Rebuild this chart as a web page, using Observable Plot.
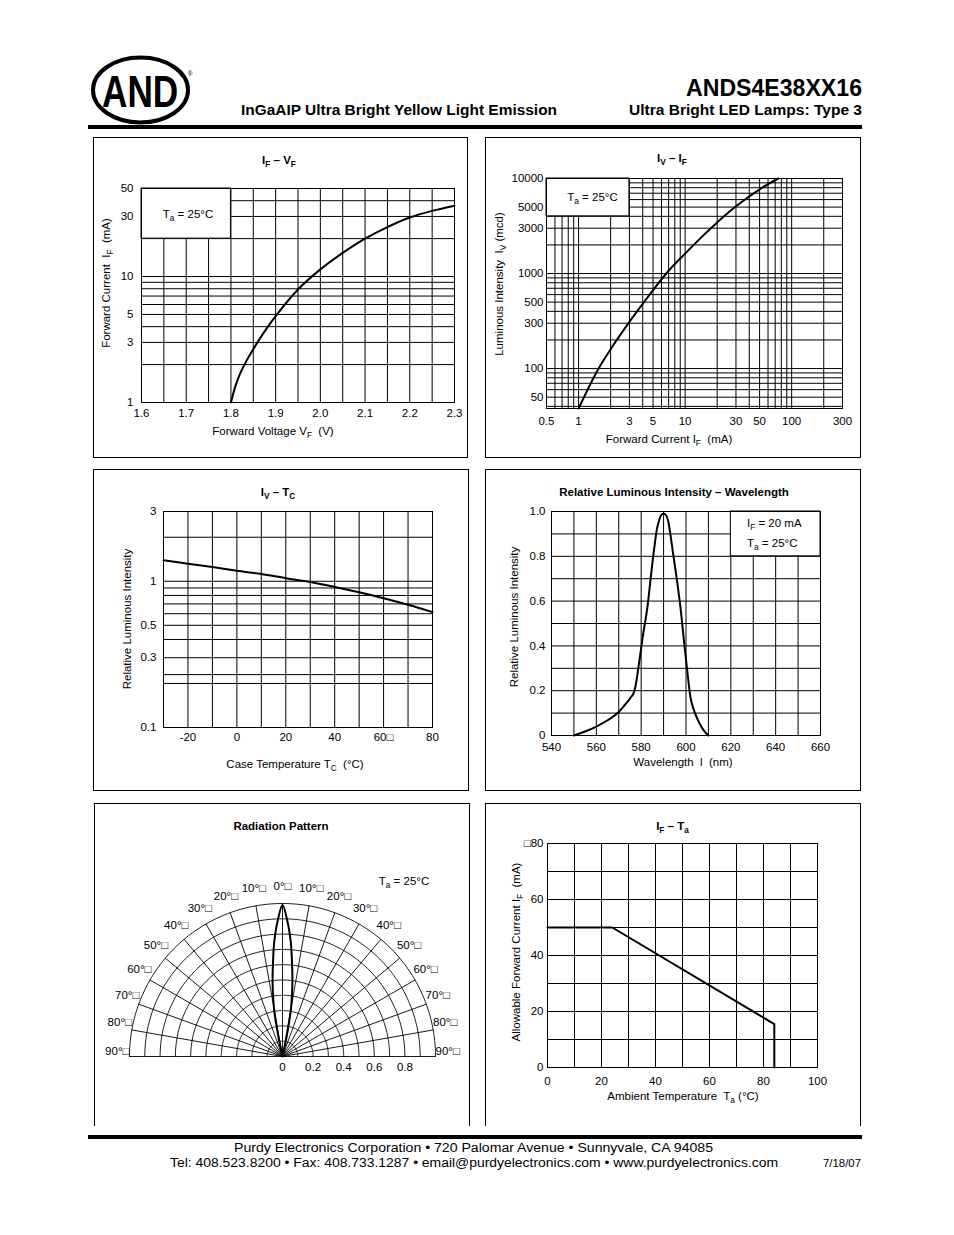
<!DOCTYPE html>
<html>
<head>
<meta charset="utf-8">
<script src="https://cdn.jsdelivr.net/npm/d3@7"></script>
<script src="https://cdn.jsdelivr.net/npm/@observablehq/plot@0.6"></script>
<style>
  body { margin: 0; background: #fff; }
  #page { position: relative; width: 954px; height: 1235px; background: #fff; overflow: hidden;
          font-family: "Liberation Sans", Arial, Helvetica, sans-serif; color: #000; }
  .panel { position: absolute; box-sizing: border-box; border: 1px solid #000; }
  .lbl { position: absolute; white-space: nowrap; line-height: 1; }
  .lbl sub { font-size: 0.72em; vertical-align: -0.3em; line-height: 0; }
</style>
</head>
<body>
<div id="page">
  <svg width="954" height="140" style="position:absolute;left:0;top:0" font-family='"Liberation Sans", Arial, Helvetica, sans-serif'>
    <ellipse cx="140.5" cy="90" rx="47.5" ry="32.5" fill="none" stroke="#000" stroke-width="4"/>
    <text transform="translate(102,107) scale(0.8,1)" x="0" y="0" font-weight="bold" font-size="44">AND<tspan font-size="8" font-weight="normal" dx="12" dy="-31">®</tspan></text>
    <text x="862" y="96" text-anchor="end" font-weight="bold" font-size="24.5" textLength="176" lengthAdjust="spacingAndGlyphs">ANDS4E38XX16</text>
    <text x="241" y="115" font-weight="bold" font-size="14.5" textLength="316" lengthAdjust="spacingAndGlyphs">InGaAIP Ultra Bright Yellow Light Emission</text>
    <text x="862" y="115" text-anchor="end" font-weight="bold" font-size="14.5" textLength="233" lengthAdjust="spacingAndGlyphs">Ultra Bright LED Lamps: Type 3</text>
    <rect x="88" y="125" width="774" height="4" fill="#000"/>
  </svg>
  <svg width="954" height="60" style="position:absolute;left:0;top:1125px" font-family='"Liberation Sans", Arial, Helvetica, sans-serif'>
    <rect x="88" y="10" width="774" height="4" fill="#000"/>
    <text x="473.5" y="27" text-anchor="middle" font-size="12" textLength="479" lengthAdjust="spacingAndGlyphs">Purdy Electronics Corporation  •  720 Palomar Avenue  •  Sunnyvale, CA 94085</text>
    <text x="474" y="42" text-anchor="middle" font-size="12" textLength="608" lengthAdjust="spacingAndGlyphs">Tel: 408.523.8200  •  Fax: 408.733.1287  •  email@purdyelectronics.com  •  www.purdyelectronics.com</text>
    <text x="861" y="42" text-anchor="end" font-size="10" textLength="38" lengthAdjust="spacingAndGlyphs">7/18/07</text>
  </svg>
</div>
<script>
// ================= DATA =================
// IF – VF
const vfTicks = [1.6, 1.7, 1.8, 1.9, 2.0, 2.1, 2.2, 2.3];
const vfGrid = [1.65, 1.7, 1.75, 1.8, 1.85, 1.9, 1.95, 2.0, 2.05, 2.1, 2.15, 2.2, 2.25];
const ifTicks = [1, 3, 5, 10, 30, 50];
const ifGrid = [2, 3, 4, 5, 6, 7, 8, 9, 10, 20, 30, 40];
const vfVoltage = [1.80, 1.81, 1.82, 1.835, 1.85, 1.875, 1.90, 1.95, 2.00, 2.05, 2.10, 2.15, 2.20, 2.25, 2.30];
const vfCurrent = [1.0, 1.35, 1.68, 2.15, 2.65, 3.65, 4.85, 7.9, 11.4, 15.4, 20.0, 24.7, 29.4, 33.2, 36.5];
const vfLegendBox = [{x1: 1.6, x2: 1.8, y1: 20, y2: 50}];

// IV – IF
const ifLogTicks = [0.5, 1, 3, 5, 10, 30, 50, 100, 300];
const ifLogGrid = [0.6, 0.7, 0.8, 0.9, 1, 2, 3, 4, 5, 6, 7, 8, 9, 10, 20, 30, 40, 50, 60, 70, 80, 90, 100, 200];
const ivTicks = [50, 100, 300, 500, 1000, 3000, 5000, 10000];
const ivGrid = [40, 50, 60, 70, 80, 90, 100, 200, 300, 400, 500, 600, 700, 800, 900, 1000, 2000, 3000, 4000, 5000, 6000, 7000, 8000, 9000];
const ivCurrent = [1, 1.5, 2, 3, 4, 5, 7, 10, 15, 20, 30, 50, 75];
const ivIntensity = [38, 95, 160, 310, 480, 670, 1070, 1620, 2550, 3450, 5100, 7700, 10000];
const ivLegendBox = [{x1: 0.5, x2: 3, y1: 4000, y2: 10000}];

// IV – TC
const tcTicks = [-20, 0, 20, 40, 60, 80];
const tcGrid = [-20, -10, 0, 10, 20, 30, 40, 50, 60, 70];
const relTicks = [0.1, 0.3, 0.5, 1, 3];
const relGrid = [0.2, 0.23, 0.3, 0.4, 0.5, 0.6, 0.7, 0.8, 0.9, 1, 2];
const tcTemp = [-30, -20, -10, 0, 10, 20, 30, 40, 50, 60, 70, 80];
const tcRel = [1.39, 1.32, 1.25, 1.18, 1.12, 1.05, 0.99, 0.915, 0.84, 0.765, 0.69, 0.615];

// Relative Luminous Intensity – Wavelength
const wlTicks = [540, 560, 580, 600, 620, 640, 660];
const wlGrid = [550, 560, 570, 580, 590, 600, 610, 620, 630, 640, 650];
const riTicks = [0, 0.2, 0.4, 0.6, 0.8, 1.0];
const riGrid = [0.1, 0.2, 0.3, 0.4, 0.5, 0.6, 0.7, 0.8, 0.9];
const wavelength = [550, 555, 560, 565, 570, 573, 575, 577, 578, 579, 580, 581, 582, 583, 584, 585, 586, 587, 588, 589, 590,
                    591, 592, 593, 594, 595, 596, 597, 598, 599, 600, 601, 602, 603, 604, 606, 608, 610];
const relIntensity = [0, 0.018, 0.04, 0.068, 0.105, 0.14, 0.165, 0.20, 0.25, 0.32, 0.39, 0.46, 0.52, 0.59, 0.68, 0.77, 0.85, 0.92, 0.96, 0.985, 0.99,
                      0.985, 0.96, 0.90, 0.83, 0.76, 0.69, 0.615, 0.53, 0.43, 0.34, 0.25, 0.17, 0.13, 0.10, 0.055, 0.022, 0];
const wlLegendBox = [{x1: 620, x2: 660, y1: 0.8, y2: 1.0}];

// Radiation pattern
const ringValues = [0.1, 0.2, 0.3, 0.4, 0.5, 0.6, 0.7, 0.8, 0.9, 1.0];
const spokeAngles = [-90, -80, -70, -60, -50, -40, -30, -20, -10, 0, 10, 20, 30, 40, 50, 60, 70, 80, 90];
const angleLabels = [-90, -80, -70, -60, -50, -40, -30, -20, -10, 0, 10, 20, 30, 40, 50, 60, 70, 80, 90];
const radialTicks = [0, 0.2, 0.4, 0.6, 0.8];
const lobeAngle = [0, 2, 4, 5, 6, 7, 8, 9, 10, 11, 12, 12.5, 13];
const lobeIntensity = [0.99, 0.89, 0.76, 0.68, 0.60, 0.53, 0.46, 0.39, 0.32, 0.22, 0.11, 0.05, 0];

// IF – Ta
const taTicks = [0, 20, 40, 60, 80, 100];
const taGrid = [10, 20, 30, 40, 50, 60, 70, 80, 90];
const afTicks = [0, 20, 40, 60, 80];
const afGrid = [10, 20, 30, 40, 50, 60, 70];
const derateTemp = [0, 24, 84, 84];
const derateCurrent = [50, 50, 15.5, 0];

// ================= DRAWING =================
const page = document.getElementById("page");
const FONT = '"Liberation Sans", Arial, Helvetica, sans-serif';
const baseStyle = {fontFamily: FONT, fontSize: "11.5px", color: "#000", background: "none", overflow: "visible"};
const K = "#000";

function place(svg, left, top) {
  svg.style.position = "absolute";
  svg.style.left = left + "px";
  svg.style.top = top + "px";
  page.appendChild(svg);
}
function panel(left, top, w, h, noBottom) {
  const d = document.createElement("div");
  d.className = "panel";
  Object.assign(d.style, {left: left + "px", top: top + "px", width: w + "px", height: h + "px"});
  if (noBottom) d.style.borderBottom = "none";
  page.appendChild(d);
}
function label(html, x, y, opt = {}) {
  const d = document.createElement("div");
  d.className = "lbl";
  d.innerHTML = html;
  d.style.left = x + "px";
  d.style.top = y + "px";
  d.style.fontSize = (opt.size || 11.5) + "px";
  if (opt.bold) d.style.fontWeight = "bold";
  let t = opt.left ? "translate(0,-50%)" : "translate(-50%,-50%)";
  if (opt.rotate) t += " rotate(-90deg)";
  d.style.transform = t;
  page.appendChild(d);
}
const zip = (xs, ys) => xs.map((x, i) => ({x, y: ys[i]}));
const fmt = d => String(d);

// tick labels drawn as text marks (so no tick is thinned out)
function xTickLabels(ticks, pad, format = fmt) {
  return Plot.text(ticks, {x: d => d, frameAnchor: "bottom", lineAnchor: "top", dy: pad, text: format, fill: K});
}
function yTickLabels(ticks, pad, format = fmt) {
  return Plot.text(ticks, {y: d => d, frameAnchor: "left", textAnchor: "end", dx: -pad, text: format, fill: K});
}

// ---- Chart 1: IF – VF ----
place(Plot.plot({
  width: 375, height: 321, marginLeft: 48, marginRight: 14, marginTop: 51, marginBottom: 56,
  style: baseStyle,
  x: {domain: [1.6, 2.3], axis: null},
  y: {type: "log", domain: [1, 50], axis: null},
  marks: [
    Plot.ruleX(vfGrid, {stroke: K}),
    Plot.ruleY(ifGrid, {stroke: K}),
    Plot.rect(vfLegendBox, {x1: "x1", x2: "x2", y1: "y1", y2: "y2", fill: "#fff", stroke: K}),
    Plot.frame({stroke: K}),
    Plot.line(zip(vfVoltage, vfCurrent), {x: "x", y: "y", curve: "catmull-rom", stroke: K, strokeWidth: 2}),
    xTickLabels(vfTicks, 6, d => d.toFixed(1)),
    yTickLabels(ifTicks, 8)
  ]
}), 93, 137);

// ---- Chart 2: IV – IF ----
place(Plot.plot({
  width: 376, height: 321, marginLeft: 61, marginRight: 19, marginTop: 41, marginBottom: 50,
  style: baseStyle,
  x: {type: "log", domain: [0.5, 300], axis: null},
  y: {type: "log", domain: [38, 10000], axis: null},
  marks: [
    Plot.ruleX(ifLogGrid, {stroke: K}),
    Plot.ruleY(ivGrid, {stroke: K}),
    Plot.rect(ivLegendBox, {x1: "x1", x2: "x2", y1: "y1", y2: "y2", fill: "#fff", stroke: K}),
    Plot.frame({stroke: K}),
    Plot.line(zip(ivCurrent, ivIntensity), {x: "x", y: "y", curve: "catmull-rom", stroke: K, strokeWidth: 2}),
    xTickLabels(ifLogTicks, 8),
    yTickLabels(ivTicks, 3)
  ]
}), 485, 137);

// ---- Chart 3: IV – TC ----
place(Plot.plot({
  width: 376, height: 322, marginLeft: 70, marginRight: 37, marginTop: 42, marginBottom: 64,
  style: baseStyle,
  x: {domain: [-30, 80], axis: null},
  y: {type: "log", domain: [0.1, 3], axis: null},
  marks: [
    Plot.ruleX(tcGrid, {stroke: K}),
    Plot.ruleY(relGrid, {stroke: K}),
    Plot.frame({stroke: K}),
    Plot.line(zip(tcTemp, tcRel), {x: "x", y: "y", curve: "catmull-rom", stroke: K, strokeWidth: 2}),
    xTickLabels(tcTicks, 5, d => d === 60 ? "60\u25A1" : String(d)),
    yTickLabels(relTicks, 7)
  ]
}), 93, 469);

// ---- Chart 4: Relative Luminous Intensity – Wavelength ----
place(Plot.plot({
  width: 376, height: 322, marginLeft: 66, marginRight: 41, marginTop: 42, marginBottom: 56,
  style: baseStyle,
  x: {domain: [540, 660], axis: null},
  y: {domain: [0, 1], axis: null},
  marks: [
    Plot.ruleX(wlGrid, {stroke: K}),
    Plot.ruleY(riGrid, {stroke: K}),
    Plot.rect(wlLegendBox, {x1: "x1", x2: "x2", y1: "y1", y2: "y2", fill: "#fff", stroke: K}),
    Plot.frame({stroke: K}),
    Plot.line(zip(wavelength, relIntensity), {x: "x", y: "y", curve: "monotone-x", stroke: K, strokeWidth: 2}),
    xTickLabels(wlTicks, 7),
    yTickLabels(riTicks, 6, d => d === 0 ? "0" : d.toFixed(1))
  ]
}), 485, 469);

// ---- Chart 5: Radiation pattern (polar, drawn on x/y scales) ----
const rad = Math.PI / 180;
const ringPts = ringValues.flatMap(r => d3.range(-90, 90.5, 1).map(a => ({r, x: r * Math.sin(a * rad), y: r * Math.cos(a * rad)})));
const lobeSide = lobeAngle.map((a, i) => ({a, r: lobeIntensity[i]}));
const lobePts = [...lobeSide.slice().reverse().map(d => ({a: -d.a, r: d.r})), ...lobeSide.slice(1)]
  .map(d => ({x: d.r * Math.sin(d.a * rad), y: d.r * Math.cos(d.a * rad)}));
place(Plot.plot({
  width: 376, height: 322, marginLeft: 35, marginRight: 35, marginTop: 100, marginBottom: 69,
  style: baseStyle,
  x: {domain: [-1, 1], axis: null},
  y: {domain: [0, 1], axis: null},
  marks: [
    Plot.line(ringPts, {x: "x", y: "y", z: "r", stroke: K, strokeWidth: 0.9}),
    Plot.link(spokeAngles, {x1: () => 0, y1: () => 0, x2: a => Math.sin(a * rad), y2: a => Math.cos(a * rad), stroke: K, strokeWidth: 0.9}),
    Plot.line(lobePts, {x: "x", y: "y", curve: "catmull-rom", stroke: K, strokeWidth: 2}),
    Plot.text(angleLabels, {x: a => 1.08 * Math.sin(a * rad), y: a => 1.08 * Math.cos(a * rad), dy: -5,
      text: a => Math.abs(a) + "°\u25A1", fill: K, fontSize: 11.5}),
    Plot.text(radialTicks, {x: d => d, y: () => 0, dy: 11, text: d => d === 0 ? "0" : d.toFixed(1), fill: K, fontSize: 11.5})
  ]
}), 94, 803);

// ---- Chart 6: IF – Ta ----
place(Plot.plot({
  width: 376, height: 322, marginLeft: 62, marginRight: 44, marginTop: 40, marginBottom: 58,
  style: baseStyle,
  x: {domain: [0, 100], axis: null},
  y: {domain: [0, 80], axis: null},
  marks: [
    Plot.ruleX(taGrid, {stroke: K}),
    Plot.ruleY(afGrid, {stroke: K}),
    Plot.frame({stroke: K}),
    Plot.line(zip(derateTemp, derateCurrent), {x: "x", y: "y", stroke: K, strokeWidth: 2}),
    xTickLabels(taTicks, 9),
    yTickLabels(afTicks, 4, d => d === 80 ? "\u25A180" : String(d))
  ]
}), 485, 803);

// ---- panel borders ----
panel(93, 137, 375, 321);
panel(485, 137, 376, 321);
panel(93, 469, 376, 322);
panel(485, 469, 376, 322);
panel(94, 803, 376, 323, true);
panel(485, 803, 376, 323, true);

// ---- titles, axis labels, legends ----
label("I<sub>F</sub> – V<sub>F</sub>", 279, 160.5, {bold: true});
label("Forward Voltage V<sub>F</sub>&nbsp; (V)", 273, 432);
label("Forward Current&nbsp; I<sub>F</sub>&nbsp; (mA)", 107, 283, {rotate: true});
label("T<sub>a</sub> = 25°C", 188, 215);

label("I<sub>V</sub> – I<sub>F</sub>", 672, 159, {bold: true});
label("Forward Current I<sub>F</sub>&nbsp; (mA)", 669, 440);
label("Luminous Intensity&nbsp; I<sub>V</sub> (mcd)", 500, 284, {rotate: true});
label("T<sub>a</sub> = 25°C", 592.5, 198);

label("I<sub>V</sub> – T<sub>C</sub>", 278, 493, {bold: true});
label("Case Temperature T<sub>C</sub>&nbsp; (°C)", 295, 764.5);
label("Relative Luminous Intensity", 128, 619, {rotate: true});

label("Relative Luminous Intensity – Wavelength", 674, 493, {bold: true});
label("Wavelength&nbsp; l&nbsp; (nm)", 683, 763);
label("Relative Luminous Intensity", 515, 617, {rotate: true});
label("I<sub>F</sub> = 20 mA", 747, 524, {left: true});
label("T<sub>a</sub> = 25°C", 747, 544, {left: true});

label("Radiation Pattern", 281, 826.5, {bold: true});
label("T<sub>a</sub> = 25°C", 404, 881.5);

label("I<sub>F</sub> – T<sub>a</sub>", 672.5, 826.5, {bold: true});
label("Ambient Temperature&nbsp; T<sub>a</sub> (°C)", 683, 1096.5);
label("Allowable Forward Current I<sub>F</sub>&nbsp; (mA)", 516.5, 952, {rotate: true});
</script>
</body>
</html>
